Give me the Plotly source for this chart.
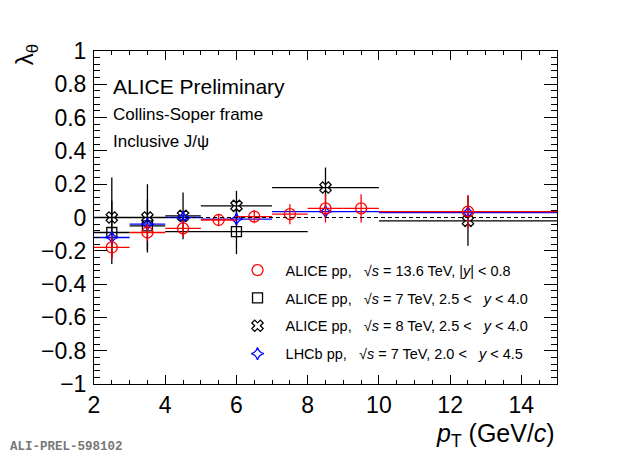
import plotly.graph_objects as go

# ALICE pp 13.6 TeV, |y| < 0.8
alice136_pt = [2.5, 3.5, 4.5, 5.5, 6.5, 7.5, 8.5, 9.5, 12.5]
alice136_lam = [-0.18, -0.09, -0.065, -0.015, 0.005, 0.02, 0.055, 0.055, 0.035]
alice136_pterr = [0.5, 0.5, 0.5, 0.5, 0.5, 0.5, 0.5, 0.5, 2.5]
alice136_lamerr = [0.07, 0.05, 0.05, 0.035, 0.04, 0.06, 0.085, 0.085, 0.1]

# ALICE pp 7 TeV, 2.5 < y < 4.0
alice7_pt = [2.5, 3.5, 6.0]
alice7_lam = [-0.09, -0.05, -0.085]
alice7_pterr = [0.5, 0.5, 2.0]
alice7_lamerr = [0.19, 0.16, 0.135]

# ALICE pp 8 TeV, 2.5 < y < 4.0
alice8_pt = [2.5, 3.5, 4.5, 6.0, 8.5, 12.5]
alice8_lam = [0.0, 0.0, 0.01, 0.07, 0.18, -0.02]
alice8_pterr = [0.5, 0.5, 0.5, 1.0, 1.5, 2.5]
alice8_lamerr = [0.24, 0.2, 0.14, 0.09, 0.12, 0.15]

# LHCb pp 7 TeV, 2.0 < y < 4.5
lhcb_pt = [2.5, 3.5, 4.5, 6.0, 8.5, 12.5]
lhcb_lam = [-0.12, -0.04, 0.0, -0.01, 0.035, 0.03]
lhcb_pterr = [0.5, 0.5, 0.5, 1.0, 1.5, 2.5]
lhcb_lamerr = [0.015, 0.015, 0.015, 0.025, 0.02, 0.025]

FONT = "Liberation Sans"
sp = "\u00a0"

fig = go.Figure()


def add_series(x, y, xe, ye, color, symbol, size, name, rank):
    fig.add_trace(go.Scatter(
        x=x, y=y, mode="markers", name=sp * 2 + name,
        legendgroup=str(rank), legendrank=rank,
        error_x=dict(type="data", array=xe, color=color, thickness=1.3, width=0),
        error_y=dict(type="data", array=ye, color=color, thickness=1.3, width=0),
        marker=dict(color=color, symbol=symbol, size=size,
                    line=dict(color=color, width=1.3)),
    ))


add_series(alice7_pt, alice7_lam, alice7_pterr, alice7_lamerr, "black",
           "square-open", 10,
           "ALICE pp," + sp * 3 + "√<i>s</i> = 7 TeV, 2.5 &lt;" + sp * 3 + "<i>y</i> &lt; 4.0", 2)
add_series(alice8_pt, alice8_lam, alice8_pterr, alice8_lamerr, "black",
           "x-open", 10,
           "ALICE pp," + sp * 3 + "√<i>s</i> = 8 TeV, 2.5 &lt;" + sp * 3 + "<i>y</i> &lt; 4.0", 3)
add_series(lhcb_pt, lhcb_lam, lhcb_pterr, lhcb_lamerr, "blue",
           "star-diamond-open", 9,
           "LHCb pp," + sp * 3 + "√<i>s</i> = 7 TeV, 2.0 &lt;" + sp * 3 + "<i>y</i> &lt; 4.5", 4)
add_series(alice136_pt, alice136_lam, alice136_pterr, alice136_lamerr, "red",
           "circle-open", 11,
           "ALICE pp," + sp * 3 + "√<i>s</i> = 13.6 TeV, |<i>y</i>| &lt; 0.8", 1)

fig.add_hline(y=0, line=dict(color="black", width=1.2, dash="4px,3px"))

axis_common = dict(
    showline=True, linecolor="black", linewidth=1, mirror="ticks",
    ticks="inside", tickcolor="black", showgrid=False, zeroline=False,
    tickfont=dict(family=FONT, size=23, color="black"),
)

fig.update_xaxes(range=[2, 15], dtick=2, tick0=2, ticklen=9,
                 minor=dict(dtick=0.5, ticklen=4, ticks="inside", tickcolor="black"),
                 **axis_common)
fig.update_yaxes(range=[-1, 1], dtick=0.2, ticklen=13, ticklabelstandoff=2,
                 minor=dict(dtick=0.04, ticklen=6, ticks="inside", tickcolor="black"),
                 **axis_common)

fig.add_annotation(text="ALICE Preliminary", xref="paper", yref="paper",
                   x=0.037, y=0.892, xanchor="left", yanchor="middle",
                   showarrow=False, font=dict(family=FONT, size=21, color="black"))
fig.add_annotation(text="Collins-Soper frame", xref="paper", yref="paper",
                   x=0.037, y=0.808, xanchor="left", yanchor="middle",
                   showarrow=False, font=dict(family=FONT, size=17, color="black"))
fig.add_annotation(text="Inclusive J/ψ", xref="paper", yref="paper",
                   x=0.037, y=0.727, xanchor="left", yanchor="middle",
                   showarrow=False, font=dict(family=FONT, size=17, color="black"))
fig.add_annotation(text="λ<sub>θ</sub>", xref="paper", yref="paper",
                   x=-0.145, y=1.027, xanchor="center", yanchor="top", textangle=-90,
                   showarrow=False, font=dict(family=FONT, size=24, color="black"))
fig.add_annotation(text="<i>p</i><sub>T</sub> (GeV/<i>c</i>)", xref="paper", yref="paper",
                   x=1.0, y=-0.1, xanchor="right", yanchor="top",
                   showarrow=False, font=dict(family=FONT, size=25, color="black"))
fig.add_annotation(text="<b>ALI-PREL-598102</b>", xref="paper", yref="paper",
                   x=-0.186, y=-0.189, xanchor="left", yanchor="middle",
                   showarrow=False, font=dict(family="Liberation Mono", size=12.5, color="#777777"))

fig.update_layout(
    width=612, height=448,
    margin=dict(l=86, r=63, t=43, b=72),
    paper_bgcolor="white", plot_bgcolor="white",
    showlegend=True,
    legend=dict(x=0.31, y=0.39, xanchor="left", yanchor="top",
                bgcolor="rgba(0,0,0,0)", traceorder="grouped", tracegroupgap=6,
                font=dict(family=FONT, size=14.5, color="black")),
)

fig.write_html("out.html")
